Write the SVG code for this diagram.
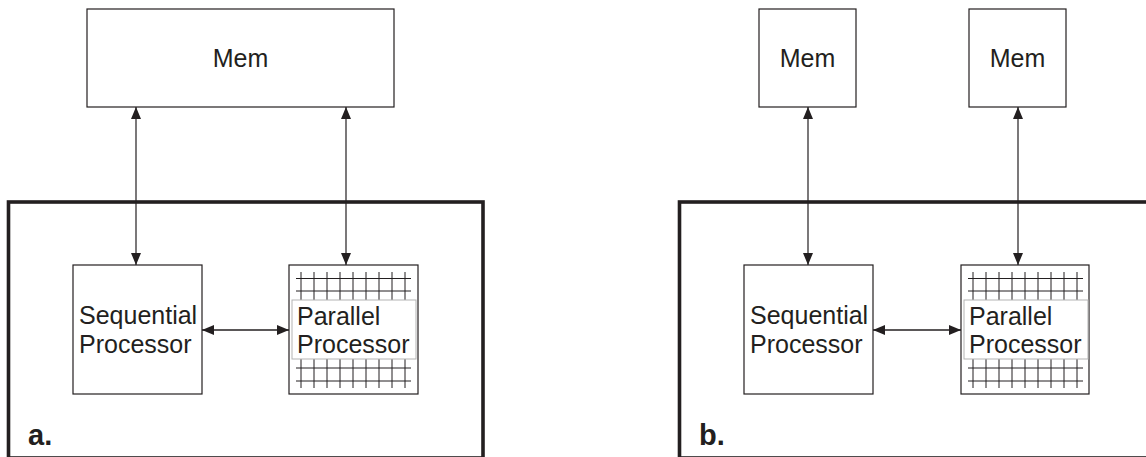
<svg xmlns="http://www.w3.org/2000/svg" width="1146" height="457" viewBox="0 0 1146 457">
  <style>
    .box { fill: #fff; stroke: #231f20; stroke-width: 1.2; }
    .frame { fill: none; stroke: #231f20; stroke-width: 3.6; }
    .lbl { fill: #fff; stroke: #b3b3b3; stroke-width: 1; }
    .grid { stroke: #231f20; stroke-width: 1; fill: none; }
    .txt { font-family: "Liberation Sans", Arial, sans-serif; font-size: 25px; fill: #231f20; }
    .tag { font-family: "Liberation Sans", Arial, sans-serif; font-size: 29px; font-weight: bold; fill: #231f20; }
    .link { stroke: #231f20; stroke-width: 1.2; fill: none; marker-start: url(#head); marker-end: url(#head); }
    .link2 { stroke: #231f20; stroke-width: 1.6; fill: none; marker-start: url(#head); marker-end: url(#head); }
  </style>
  <defs>
    <marker id="head" markerUnits="userSpaceOnUse" markerWidth="12" markerHeight="10" refX="12" refY="5" orient="auto-start-reverse">
      <path d="M0,0 L12,5 L0,10 z" fill="#231f20"/>
    </marker>
    <!-- processor-array grid: two rows of lines above and below the label -->
    <g id="pgrid">
      <path class="grid" d="M296,278.5 H411 M296,291 H411 M296,368 H411 M296,381 H411"/>
      <path class="grid" d="M301,272 V388 M314,272 V388 M327,272 V388 M340,272 V388 M353,272 V388 M366,272 V388 M379,272 V388 M392,272 V388 M405,272 V388"/>
    </g>
  </defs>

  <!-- ===== a. shared memory ===== -->
  <g id="frame-a">
    <rect class="frame" x="8.5" y="202" width="474.5" height="256"/>
    <text class="tag" x="28" y="445">a.</text>
  </g>
  <g id="mem-a">
    <rect class="box" x="87" y="9" width="307" height="98"/>
    <text class="txt" x="240.5" y="67" text-anchor="middle">Mem</text>
  </g>
  <g id="seq-a">
    <rect class="box" x="73" y="265" width="129" height="129"/>
    <text class="txt" x="79" y="324">Sequential</text>
    <text class="txt" x="79" y="353">Processor</text>
  </g>
  <g id="par-a">
    <rect class="box" x="289" y="265" width="129" height="129"/>
    <use href="#pgrid"/>
    <rect class="lbl" x="292" y="300" width="124" height="59"/>
    <text class="txt" x="297" y="325">Parallel</text>
    <text class="txt" x="297" y="353">Processor</text>
  </g>

  <!-- ===== b. separate memories ===== -->
  <g id="frame-b">
    <rect class="frame" x="679.5" y="202" width="480" height="256"/>
    <text class="tag" x="699" y="445">b.</text>
  </g>
  <g id="mem-b1">
    <rect class="box" x="759" y="9" width="97" height="98"/>
    <text class="txt" x="807.5" y="67" text-anchor="middle">Mem</text>
  </g>
  <g id="mem-b2">
    <rect class="box" x="969" y="9" width="97" height="98"/>
    <text class="txt" x="1017.5" y="67" text-anchor="middle">Mem</text>
  </g>
  <g id="seq-b">
    <rect class="box" x="744" y="265" width="129" height="129"/>
    <text class="txt" x="750" y="324">Sequential</text>
    <text class="txt" x="750" y="353">Processor</text>
  </g>
  <g id="par-b">
    <rect class="box" x="961" y="265" width="128" height="129"/>
    <use href="#pgrid" transform="translate(672,0)"/>
    <rect class="lbl" x="964" y="300" width="124" height="59"/>
    <text class="txt" x="969" y="325">Parallel</text>
    <text class="txt" x="969" y="353">Processor</text>
  </g>

  <!-- connectors -->
  <g id="connectors">
    <line class="link" x1="136" y1="107" x2="136" y2="265"/>
    <line class="link" x1="346" y1="107" x2="346" y2="265"/>
    <line class="link2" x1="202" y1="330" x2="289" y2="330"/>
    <line class="link" x1="808" y1="107" x2="808" y2="265"/>
    <line class="link" x1="1018" y1="107" x2="1018" y2="265"/>
    <line class="link2" x1="873" y1="330" x2="961" y2="330"/>
  </g>
</svg>
